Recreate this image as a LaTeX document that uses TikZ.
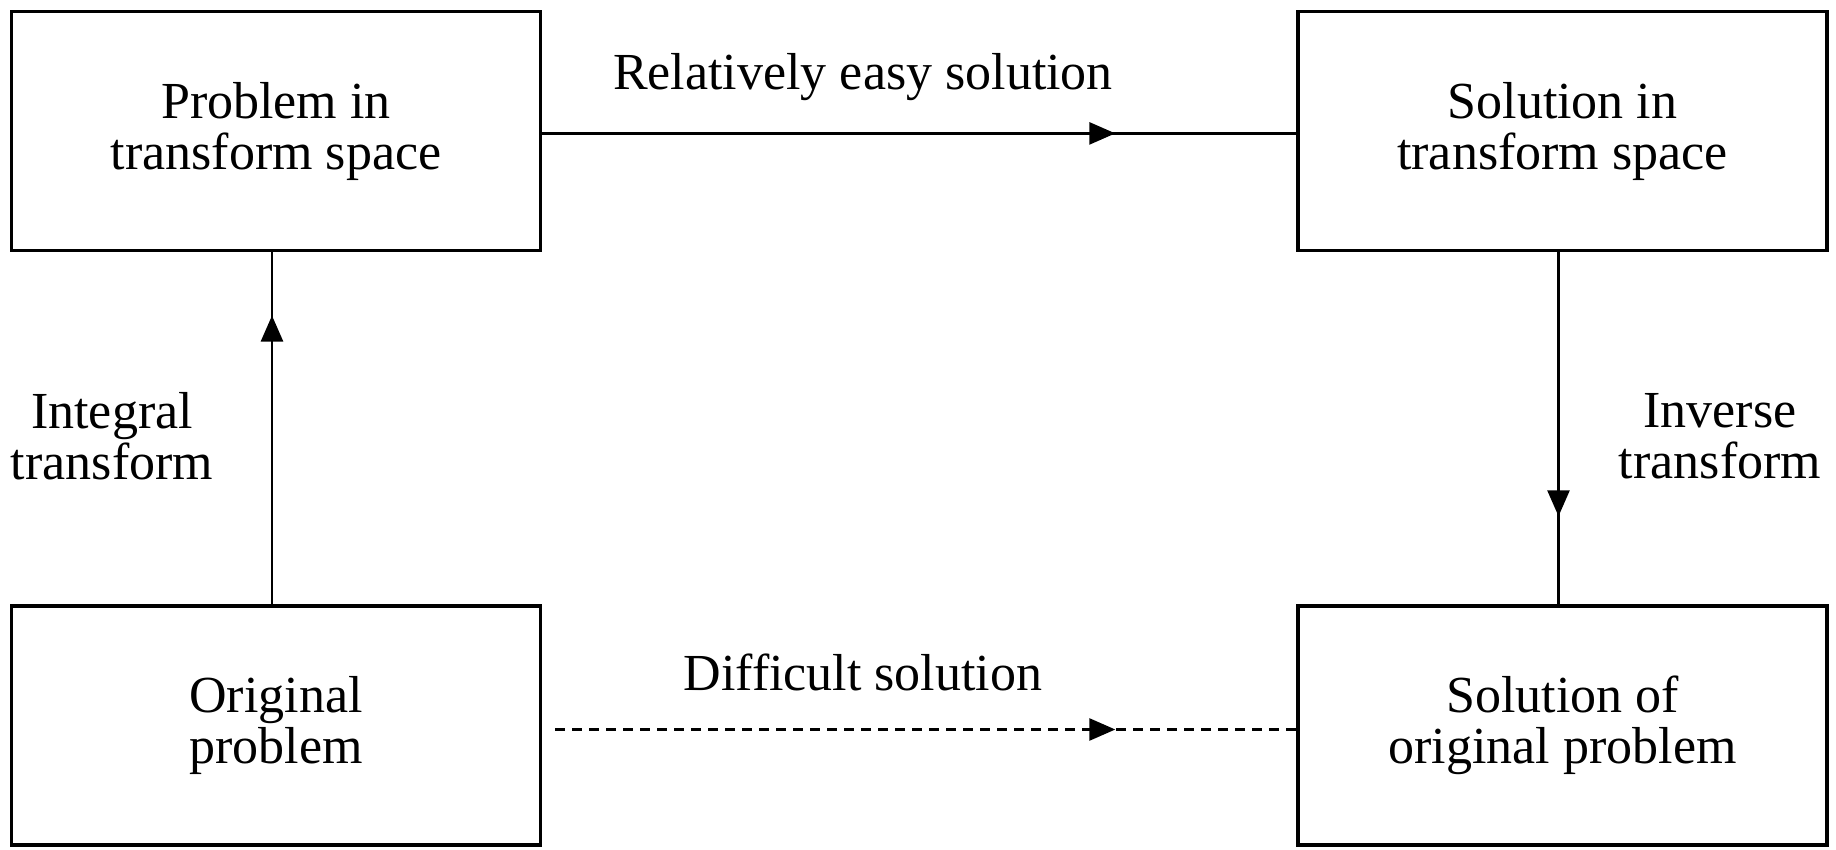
\documentclass[tikz,border=0pt]{standalone}
\usepackage{fontspec}
\setmainfont{Liberation Serif}
\usetikzlibrary{arrows.meta,decorations.markings}
\begin{document}
\begin{tikzpicture}[x=0.5pt,y=-0.5pt,
  box/.style={draw,line width=1.7pt,minimum width=264.5pt,minimum height=119.5pt,inner sep=0pt,align=center,font=\fontsize{26}{25.5}\selectfont},
  lbl/.style={align=center,inner sep=0pt,font=\fontsize{26}{25.5}\selectfont},
  conn/.style={line width=1.35pt},
  midarrow/.style={postaction={decorate},decoration={markings,mark=at position #1 with {\arrow{Triangle[length=13pt,width=11pt]}}}}
]
\useasboundingbox (0,0) rectangle (1836,850);
\node[box] (tl) at (276,131) {Problem in\\transform space};
\node[box] (tr) at (1562.5,131) {Solution in\\transform space};
\node[box] (bl) at (276,725.5) {Original\\problem};
\node[box] (br) at (1562.5,725.5) {Solution of\\original problem};

\draw[conn,midarrow=0.76] ([yshift=-1.2pt]tl.east) -- ([yshift=-1.2pt]tr.west);
\draw[conn,midarrow=0.82] ([xshift=-2pt]bl.north) -- ([xshift=-2pt]tl.south);
\draw[conn,midarrow=0.75] ([xshift=-2pt]tr.south) -- ([xshift=-2pt]br.north);
\draw[conn,dash pattern=on 5pt off 3.5pt,shorten <=6.5pt,midarrow=0.76] ([yshift=-2pt]bl.east) -- ([yshift=-2pt]br.west);

\node[lbl] (l1) at (863,77) {Relatively easy solution};
\node[lbl] (l2) at (863,672) {Difficult solution};
\node[lbl] (l3) at (112,436) {Integral\\transform};
\node[lbl] (l4) at (1720,436) {Inverse\\transform};
\end{tikzpicture}
\end{document}
